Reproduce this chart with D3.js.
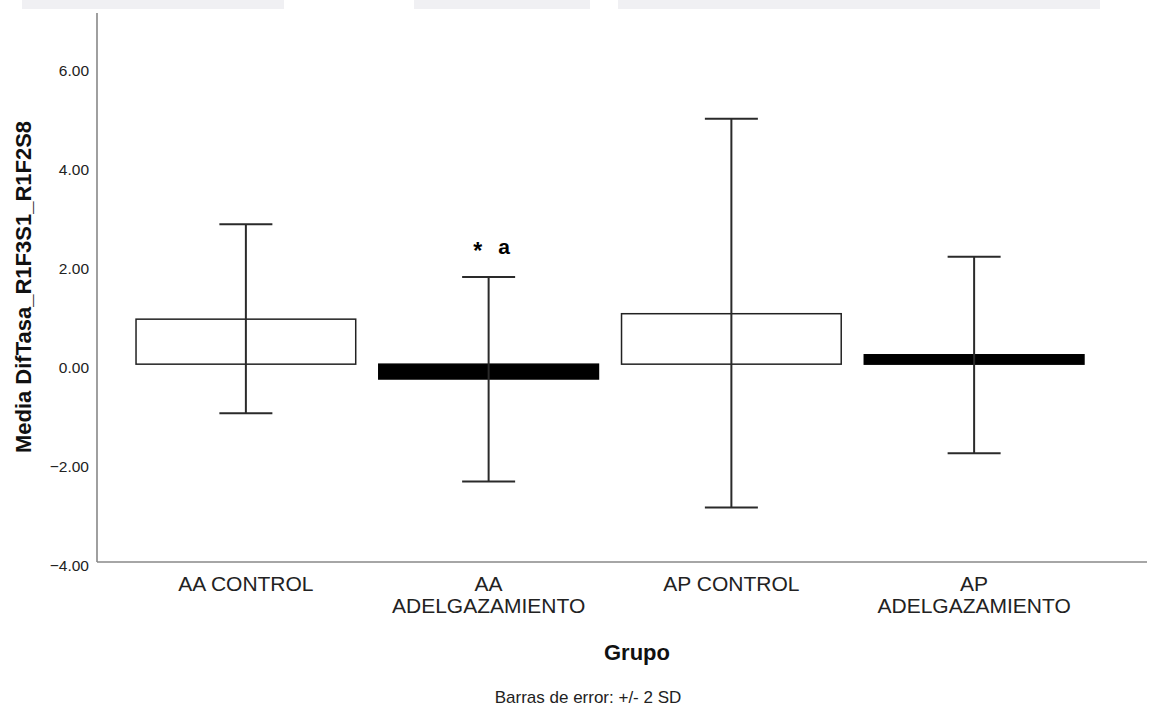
<!DOCTYPE html>
<html lang="es">
<head>
    <meta charset="UTF-8">
    <title>Media DifTasa_R1F3S1_R1F2S8 por Grupo</title>
    <script src="https://d3js.org/d3.v7.min.js"></script>
    <style>
        body { margin: 0; background: #fff; }
        svg { display: block; font-family: "Liberation Sans", Arial, sans-serif; }
        .tick-label { font-size: 15.5px; fill: #222; }
        .cat-label { font-size: 21px; fill: #222; }
        .axis-title { font-size: 22px; font-weight: bold; fill: #111; }
        .note { font-size: 17px; fill: #222; }
    </style>
</head>
<body>
    <svg width="1149" height="708"></svg>

    <script>
        // datos
        const groups = ["AA CONTROL", "AA ADELGAZAMIENTO", "AP CONTROL", "AP ADELGAZAMIENTO"];
        const groupLines = [["AA CONTROL"], ["AA", "ADELGAZAMIENTO"], ["AP CONTROL"], ["AP", "ADELGAZAMIENTO"]];
        const means = [0.91, -0.30, 1.02, 0.19];
        const lower = [-0.99, -2.37, -2.90, -1.80];
        const upper = [2.83, 1.76, 4.96, 2.17];
        const filled = [false, true, false, true];
        const yTicks = [-4, -2, 0, 2, 4, 6];
        const yDomain = [-4, 7.1];

        const svg = d3.select("svg");

        // franja gris de la captura original
        [[22, 284], [414, 590], [618, 1100]].forEach(([a, b]) => {
            svg.append("rect")
                .attr("x", a).attr("y", 0)
                .attr("width", b - a).attr("height", 9)
                .attr("fill", "#f0f0f3");
        });

        const x = d3.scaleBand()
            .domain(groups)
            .range([124.5, 1095.5])
            .paddingInner(0.095)
            .paddingOuter(0.0475);

        const y = d3.scaleLinear()
            .domain(yDomain)
            .range([562, 13]);

        const axisLeft = 97;
        const axisRight = 1147;

        // ejes
        svg.append("line")
            .attr("x1", axisLeft).attr("x2", axisLeft)
            .attr("y1", y(yDomain[1])).attr("y2", y(yDomain[0]))
            .attr("stroke", "#888").attr("stroke-width", 1.6);
        svg.append("line")
            .attr("x1", axisLeft).attr("x2", axisRight)
            .attr("y1", y(yDomain[0])).attr("y2", y(yDomain[0]))
            .attr("stroke", "#888").attr("stroke-width", 1.6);

        svg.selectAll(".tick-label")
            .data(yTicks)
            .enter()
            .append("text")
            .attr("class", "tick-label")
            .attr("x", 89)
            .attr("y", d => y(d) + 8.5)
            .attr("text-anchor", "end")
            .text(d3.format(".2f"));

        const data = groups.map((g, i) => ({
            group: g, lines: groupLines[i], mean: means[i],
            lo: lower[i], hi: upper[i], filled: filled[i]
        }));

        // barras
        svg.selectAll(".bar")
            .data(data)
            .enter()
            .append("rect")
            .attr("class", "bar")
            .attr("x", d => x(d.group))
            .attr("width", x.bandwidth())
            .attr("y", d => y(Math.max(0, d.mean)))
            .attr("height", d => Math.abs(y(d.mean) - y(0)))
            .attr("fill", d => d.filled ? "#000" : "#fff")
            .attr("stroke", d => d.filled ? "#000" : "#222")
            .attr("stroke-width", 1.5);

        // barras de error
        const capW = 53;
        data.forEach(d => {
            const cx = x(d.group) + x.bandwidth() / 2;
            const g = svg.append("g")
                .attr("stroke", "#2a2a2a")
                .attr("stroke-width", 2);
            g.append("line")
                .attr("x1", cx).attr("x2", cx)
                .attr("y1", y(d.hi)).attr("y2", y(d.lo));
            g.append("line")
                .attr("x1", cx - capW / 2).attr("x2", cx + capW / 2)
                .attr("y1", y(d.hi)).attr("y2", y(d.hi));
            g.append("line")
                .attr("x1", cx - capW / 2).attr("x2", cx + capW / 2)
                .attr("y1", y(d.lo)).attr("y2", y(d.lo));
        });

        // anotacion "* a" sobre AA ADELGAZAMIENTO
        const annCx = x("AA ADELGAZAMIENTO") + x.bandwidth() / 2;
        const annY = y(upper[1]) - 23;
        svg.append("text")
            .attr("x", annCx - 11).attr("y", annY + 5)
            .attr("text-anchor", "middle")
            .attr("font-size", 23).attr("font-weight", "bold")
            .text("*");
        svg.append("text")
            .attr("x", annCx + 15.5).attr("y", annY)
            .attr("text-anchor", "middle")
            .attr("font-size", 21).attr("font-weight", "bold")
            .text("a");

        // etiquetas de categoria
        data.forEach(d => {
            const t = svg.append("text")
                .attr("class", "cat-label")
                .attr("text-anchor", "middle");
            d.lines.forEach((ln, i) => {
                t.append("tspan")
                    .attr("x", x(d.group) + x.bandwidth() / 2)
                    .attr("y", 591 + i * 22)
                    .text(ln);
            });
        });

        // titulos
        svg.append("text")
            .attr("class", "axis-title")
            .attr("transform", "translate(31,287) rotate(-90)")
            .attr("text-anchor", "middle")
            .text("Media DifTasa_R1F3S1_R1F2S8");

        svg.append("text")
            .attr("class", "axis-title")
            .attr("x", 637).attr("y", 660)
            .attr("text-anchor", "middle")
            .text("Grupo");

        svg.append("text")
            .attr("class", "note")
            .attr("x", 588).attr("y", 703)
            .attr("text-anchor", "middle")
            .text("Barras de error: +/- 2 SD");
    </script>
</body>
</html>
